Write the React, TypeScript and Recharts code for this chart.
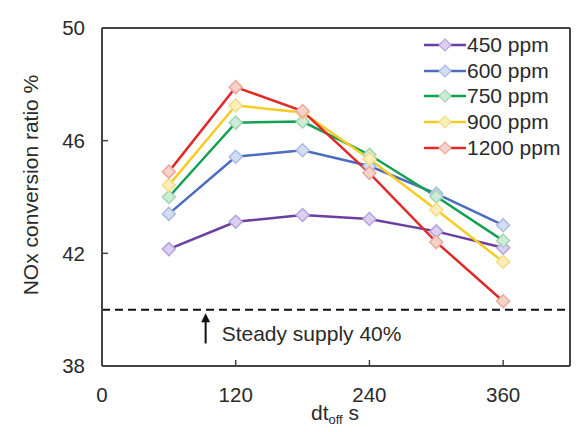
import React from 'react';
import { LineChart, Line, XAxis, YAxis, ReferenceLine, Legend } from 'recharts';

const dtOff = [60, 120, 180, 240, 300, 360];
const ppm450 = [42.15, 43.12, 43.36, 43.22, 42.78, 42.2];
const ppm600 = [43.4, 45.43, 45.66, 45.1, 44.12, 43.0];
const ppm750 = [44.0, 46.64, 46.68, 45.5, 44.02, 42.45];
const ppm900 = [44.42, 47.25, 47.0, 45.35, 43.55, 41.7];
const ppm1200 = [44.9, 47.9, 47.05, 44.85, 42.4, 40.3];
const seriesNames = ['450 ppm', '600 ppm', '750 ppm', '900 ppm', '1200 ppm'];
const seriesKeys = ['p450', 'p600', 'p750', 'p900', 'p1200'];
const xTicks = [0, 120, 240, 360];
const yTicks = [38, 42, 46, 50];
const steadyValue = 40;

const lineColors = ['#6a3fa0', '#4b6cc0', '#12a052', '#f5cc22', '#e02a2a'];
const markerFills = ['#dccff2', '#d2ddf3', '#cdebd6', '#fbeeb8', '#f6d2c8'];
const markerStrokes = ['#b6a2dc', '#a9bce6', '#9fd7b2', '#f3dc85', '#ecaa9c'];

const allSeries = [ppm450, ppm600, ppm750, ppm900, ppm1200];
const data = dtOff.map((x, i) => {
  const row: any = { x };
  seriesKeys.forEach((k, s) => (row[k] = allSeries[s][i]));
  return row;
});

const FONT = '"Liberation Sans", Arial, sans-serif';
const TEXT = '#2a2a2a';

const makeDot = (fill: string, stroke: string) => (props: any) => {
  const { cx, cy, index } = props;
  if (cx == null || cy == null) return <g key={`e${index}`} />;
  const r = 6.5;
  return (
    <polygon
      key={`d${index}`}
      points={`${cx},${cy - r} ${cx + r},${cy} ${cx},${cy + r} ${cx - r},${cy}`}
      fill={fill}
      stroke={stroke}
      strokeWidth={1.5}
    />
  );
};

const renderLegend = () => (
  <div style={{ fontFamily: FONT, fontSize: 21, color: TEXT }}>
    {seriesNames.map((name, i) => (
      <div key={name} style={{ display: 'flex', alignItems: 'center', height: 25.8 }}>
        <svg width={44} height={16} style={{ display: 'block' }}>
          <line x1={1} y1={8} x2={43} y2={8} stroke={lineColors[i]} strokeWidth={2.5} />
          <polygon points="22,2 28,8 22,14 16,8" fill={markerFills[i]} stroke={markerStrokes[i]} strokeWidth={1.2} />
        </svg>
        <span style={{ marginLeft: 0, lineHeight: '22px', whiteSpace: 'nowrap' }}>{name}</span>
      </div>
    ))}
  </div>
);

const YLabel = (props: any) => {
  const { viewBox } = props;
  const cx = 30;
  const cy = viewBox.y + viewBox.height / 2 - 12;
  return (
    <text x={cx} y={cy} transform={`rotate(-90, ${cx}, ${cy})`} textAnchor="middle" dominantBaseline="central" fontSize={21} fill={TEXT} fontFamily={FONT}>
      NOx conversion ratio %
    </text>
  );
};

const XLabel = () => {
  return (
    <text x={311} y={420} fontSize={21} fill={TEXT} fontFamily={FONT}>
      dt
      <tspan fontSize={13} dy={4}>off</tspan>
      <tspan dy={-4}> s</tspan>
    </text>
  );
};

const ArrowShape = (props: any) => {
  const { x1, y1, x2, y2 } = props;
  const top = Math.min(y1, y2);
  const bottom = Math.max(y1, y2);
  const x = x1;
  return (
    <g>
      <line x1={x} y1={bottom} x2={x} y2={top + 6} stroke="#111" strokeWidth={2} />
      <polygon points={`${x},${top} ${x - 4.5},${top + 9} ${x + 4.5},${top + 9}`} fill="#111" />
      <text x={x + 16} y={bottom - 10} dominantBaseline="central" fontSize={21} fill={TEXT} fontFamily={FONT}>
        Steady supply 40%
      </text>
    </g>
  );
};

export default function App() {
  return (
    <div style={{ position: 'absolute', left: 0, top: 0, width: 576, height: 432, background: '#fff', fontFamily: FONT }}>
      <LineChart width={576} height={432} data={data} margin={{ top: 28, right: 6, bottom: 0, left: 0 }} style={{ fontFamily: FONT }}>
        <XAxis
          dataKey="x"
          type="number"
          domain={[0, 420]}
          ticks={xTicks}
          height={66}
          stroke="#444"
          strokeWidth={2}
          tickSize={-6}
          tickMargin={27}
          tick={{ fontSize: 20.5, fill: TEXT, fontFamily: FONT }}
          tickLine={{ stroke: '#444', strokeWidth: 1.5 }}
          label={<XLabel />}
        />
        <YAxis
          type="number"
          domain={[38, 50]}
          ticks={yTicks}
          width={102}
          stroke="#444"
          strokeWidth={2}
          tickSize={-6}
          tickMargin={23}
          tick={{ fontSize: 20.5, fill: TEXT, fontFamily: FONT }}
          tickLine={{ stroke: '#444', strokeWidth: 1.5 }}
          label={<YLabel />}
        />
        <ReferenceLine y={50} stroke="#444" strokeWidth={2} ifOverflow="visible" />
        <ReferenceLine x={420} stroke="#444" strokeWidth={2} ifOverflow="visible" />
        <ReferenceLine y={steadyValue} stroke="#111" strokeWidth={2} strokeDasharray="8 5" />
        <ReferenceLine
          segment={[{ x: 93, y: 38.8 }, { x: 93, y: 39.87 }]}
          shape={<ArrowShape />}
          ifOverflow="visible"
        />
        {seriesKeys.map((k, i) => (
          <Line
            key={k}
            dataKey={k}
            name={seriesNames[i]}
            stroke={lineColors[i]}
            strokeWidth={2.5}
            dot={makeDot(markerFills[i], markerStrokes[i])}
            activeDot={false}
            isAnimationActive={false}
          />
        ))}
        <Legend
          content={renderLegend}
          layout="horizontal"
          verticalAlign="middle"
          align="center"
          wrapperStyle={{ position: 'absolute', top: 32, left: 423, width: 152, height: 130 }}
        />
      </LineChart>
    </div>
  );
}
